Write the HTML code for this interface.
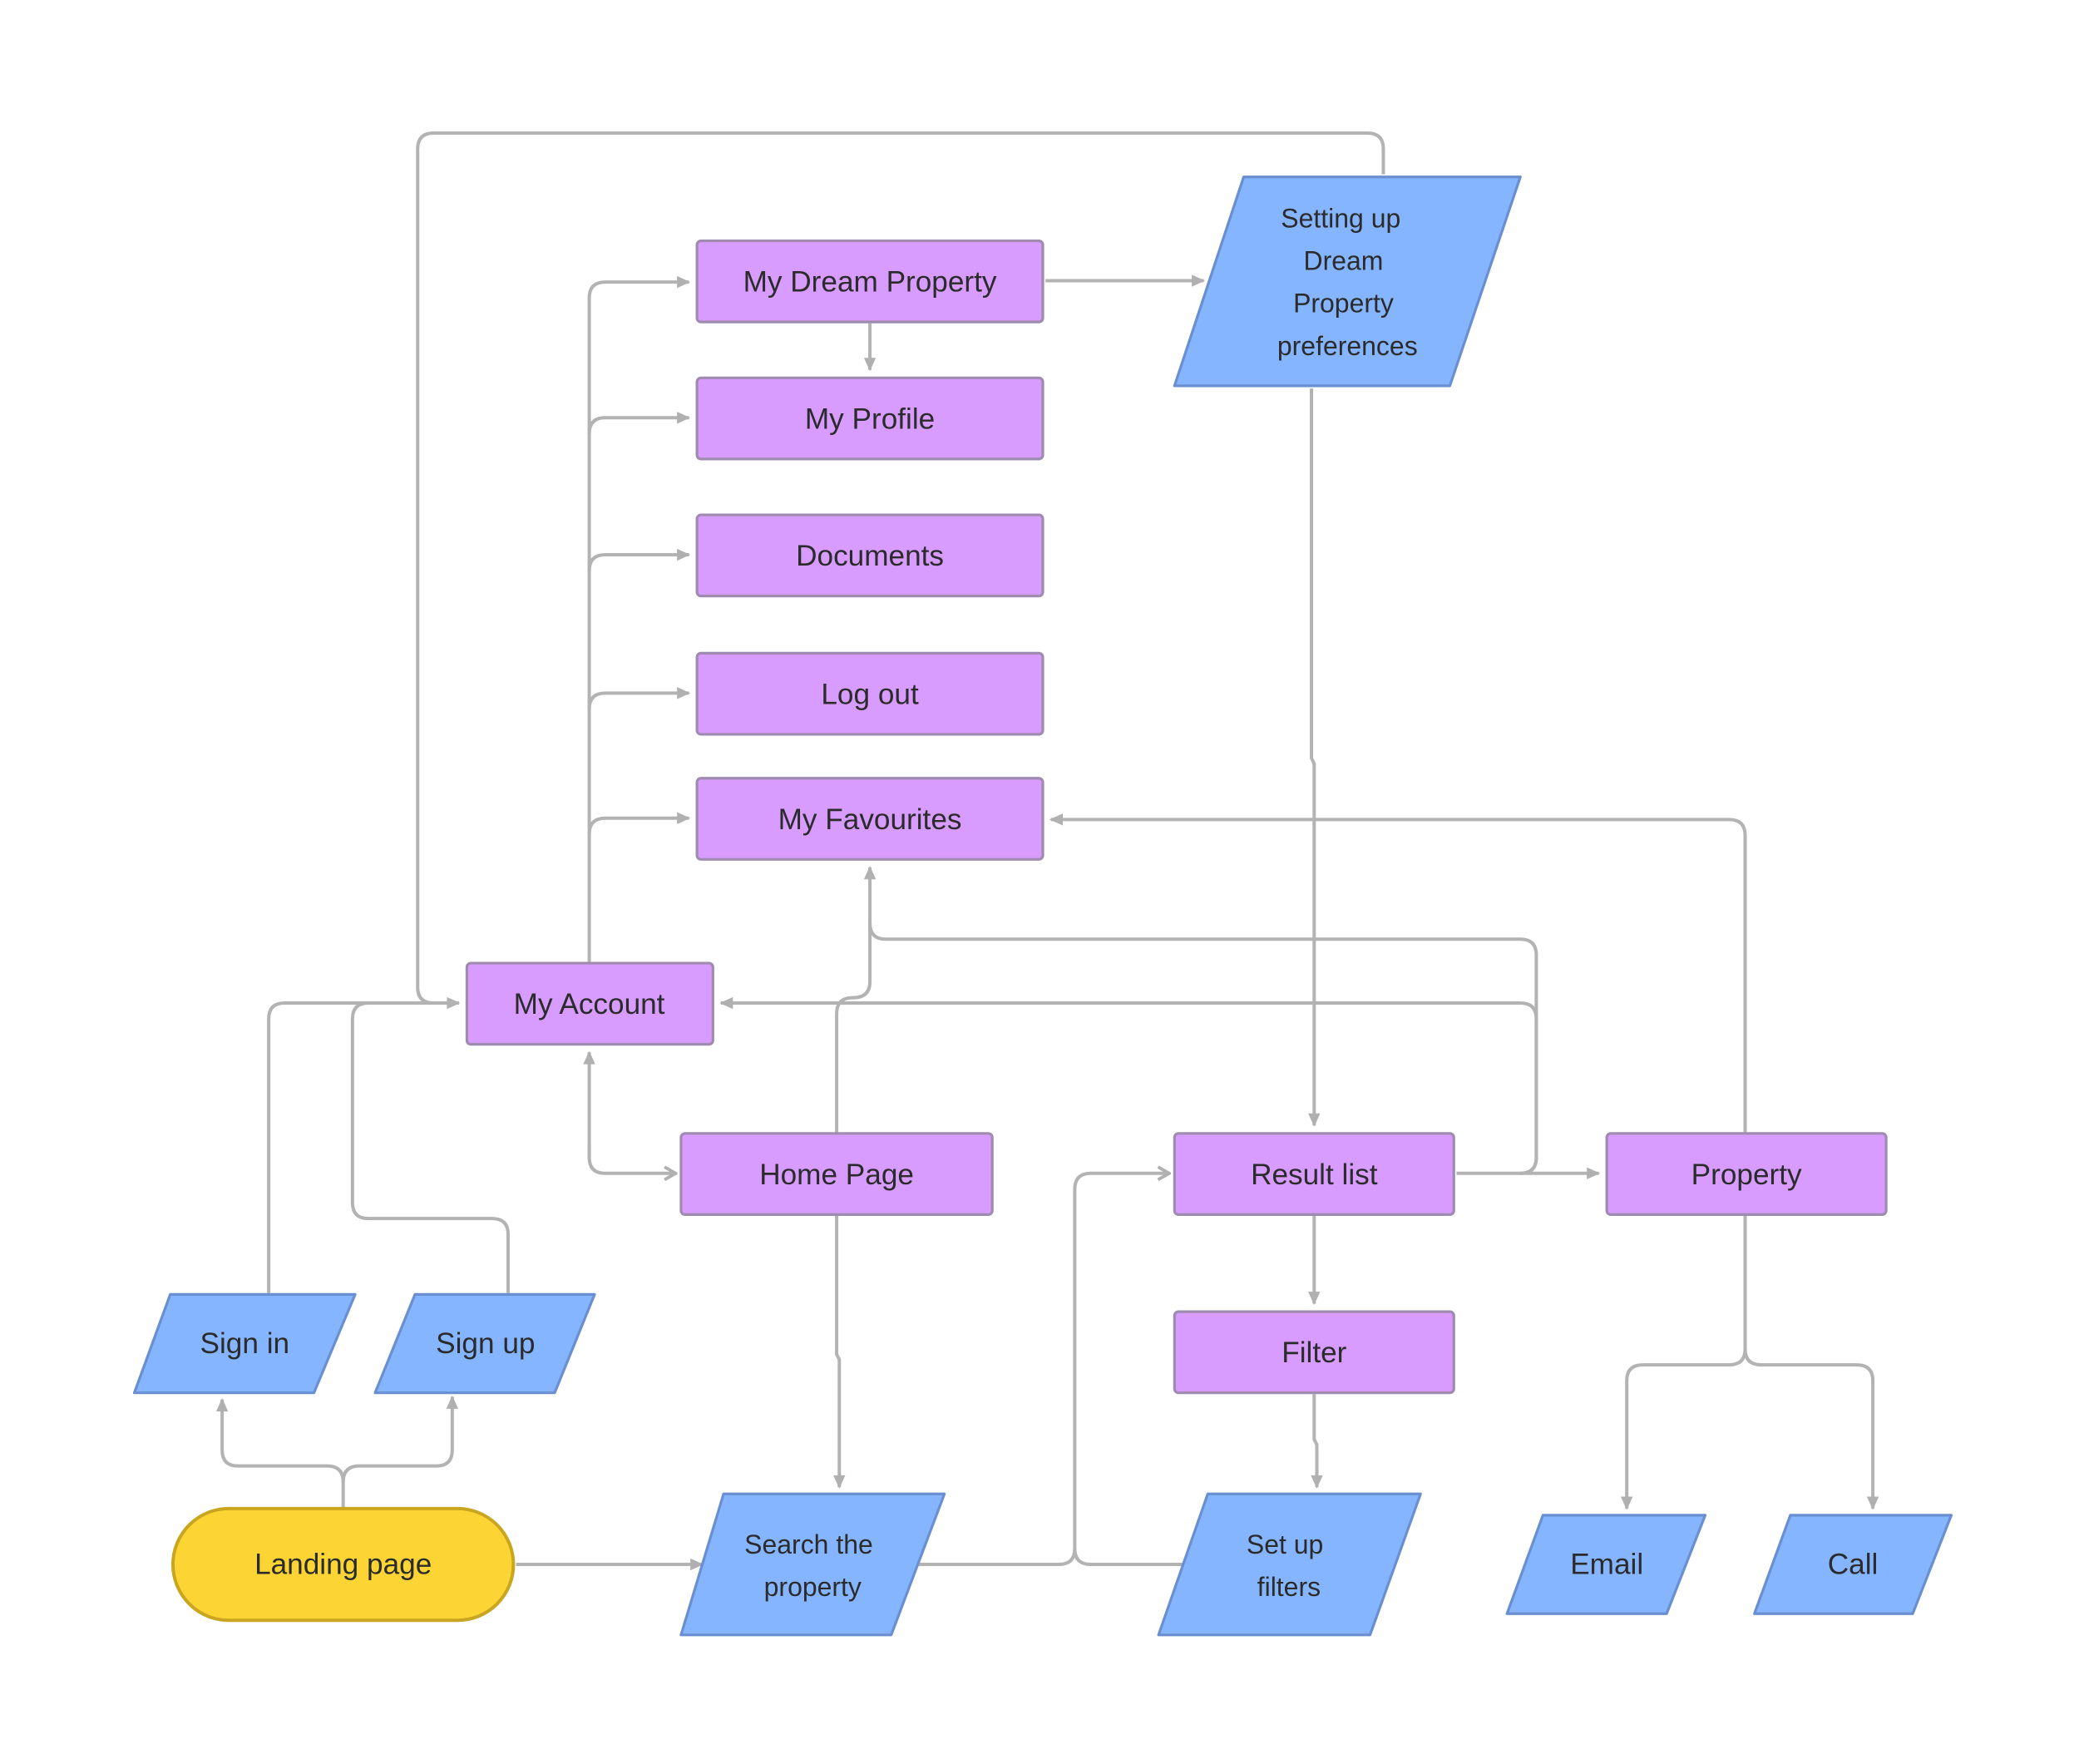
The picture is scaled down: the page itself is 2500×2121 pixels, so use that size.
<!DOCTYPE html>
<html><head><meta charset="utf-8"><style>
html,body{margin:0;padding:0;background:#fff;}
svg{display:block;}
text{font-family:"Liberation Sans",sans-serif;fill:#2b2b2b;text-anchor:middle;dominant-baseline:central;}
</style></head><body>
<svg width="2500" height="2121" viewBox="0 0 1563 1326" xmlns="http://www.w3.org/2000/svg">
<defs>
<marker id="a" viewBox="0 0 10 10" refX="9" refY="5" markerWidth="10" markerHeight="10" orient="auto" markerUnits="userSpaceOnUse" style="overflow:visible">
<path d="M0 0.5 L10 5 L0 9.5 z" fill="#b0b0b0"/></marker>
<marker id="c" viewBox="0 0 10 10" refX="9" refY="5" markerWidth="12" markerHeight="12" orient="auto" markerUnits="userSpaceOnUse">
<path d="M2 1 L9 5 L2 9" fill="none" stroke="#b0b0b0" stroke-width="2"/></marker>
</defs>
<g fill="none" stroke="#b3b3b3" stroke-width="2.5">
<path d="M1040 131 V112 Q1040 100 1028 100 H326 Q314 100 314 112 V742 Q314 754 326 754 H345" marker-end="url(#a)"/>
<path d="M443 724 V224 Q443 212 455 212 H518" marker-end="url(#a)"/>
<path d="M443 326 Q443 314 455 314 H518" marker-end="url(#a)"/>
<path d="M443 429 Q443 417 455 417 H518" marker-end="url(#a)"/>
<path d="M443 533 Q443 521 455 521 H518" marker-end="url(#a)"/>
<path d="M443 627 Q443 615 455 615 H518" marker-end="url(#a)"/>
<path d="M786 211 H905" marker-end="url(#a)"/>
<path d="M654 243 V278" marker-end="url(#a)"/>
<path d="M986 292 V570 L988 574 V846" marker-end="url(#a)"/>
<path d="M1312 852 V628 Q1312 616 1300 616 H790" marker-end="url(#a)"/>
<path d="M1095 882 H1202" marker-end="url(#a)"/>
<path d="M1143 882 Q1155 882 1155 870 V718 Q1155 706 1143 706 H666 Q654 706 654 694 V652" marker-end="url(#a)"/>
<path d="M1143 882 Q1155 882 1155 870 V766 Q1155 754 1143 754 H542" marker-end="url(#a)"/>
<path d="M629 852 V762 Q629 750 641 750 Q654 750 654 738 V694"/>
<path d="M443 870 V791" marker-end="url(#a)"/>
<path d="M443 860 V870 Q443 882 455 882 H508" marker-end="url(#c)"/>
<path d="M202 972 V766 Q202 754 214 754 H345"/>
<path d="M382 972 V928 Q382 916 370 916 H277 Q265 916 265 904 V766 Q265 754 277 754"/>
<path d="M258 1133 V1114 Q258 1102 246 1102 H179 Q167 1102 167 1090 V1052" marker-end="url(#a)"/>
<path d="M258 1114 Q258 1102 270 1102 H328 Q340 1102 340 1090 V1050" marker-end="url(#a)"/>
<path d="M388 1176 H528" marker-end="url(#a)"/>
<path d="M629 914 V1018 L631 1022 V1118" marker-end="url(#a)"/>
<path d="M690 1176 H796 Q808 1176 808 1164 V894 Q808 882 820 882 H879" marker-end="url(#c)"/>
<path d="M890 1176 H820 Q808 1176 808 1164"/>
<path d="M988 914 V980" marker-end="url(#a)"/>
<path d="M988 1048 V1082 L990 1086 V1118" marker-end="url(#a)"/>
<path d="M1312 914 V1014 Q1312 1026 1300 1026 H1235 Q1223 1026 1223 1038 V1134" marker-end="url(#a)"/>
<path d="M1312 1014 Q1312 1026 1324 1026 H1396 Q1408 1026 1408 1038 V1134" marker-end="url(#a)"/>
</g>
<g fill="#d79cfd" stroke="#a08bb0" stroke-width="2">
<rect x="524" y="181" width="260" height="61" rx="3"/>
<rect x="524" y="284" width="260" height="61" rx="3"/>
<rect x="524" y="387" width="260" height="61" rx="3"/>
<rect x="524" y="491" width="260" height="61" rx="3"/>
<rect x="524" y="585" width="260" height="61" rx="3"/>
<rect x="351" y="724" width="185" height="61" rx="3"/>
<rect x="512" y="852" width="234" height="61" rx="3"/>
<rect x="883" y="852" width="210" height="61" rx="3"/>
<rect x="1208" y="852" width="210" height="61" rx="3"/>
<rect x="883" y="986" width="210" height="61" rx="3"/>
</g>
<g fill="#86b5ff" stroke="#6a8fd0" stroke-width="2" stroke-linejoin="round">
<polygon points="935,133 1143,133 1090,290 883,290"/>
<polygon points="128,973 267,973 236,1047 101,1047"/>
<polygon points="312,973 447,973 417,1047 282,1047"/>
<polygon points="544,1123 710,1123 670,1229 512,1229"/>
<polygon points="908,1123 1068,1123 1030,1229 871,1229"/>
<polygon points="1160,1139 1282,1139 1253,1213 1133,1213"/>
<polygon points="1346,1139 1467,1139 1438,1213 1319,1213"/>
</g>
<rect x="130" y="1134" width="256" height="84" rx="42" fill="#fcd535" stroke="#c9a520" stroke-width="2.5"/>
<g font-size="22">
<text x="654" y="212">My Dream Property</text>
<text x="654" y="315">My Profile</text>
<text x="654" y="418">Documents</text>
<text x="654" y="522">Log out</text>
<text x="654" y="616">My Favourites</text>
<text x="443" y="755">My Account</text>
<text x="629" y="883">Home Page</text>
<text x="988" y="883">Result list</text>
<text x="1313" y="883">Property</text>
<text x="988" y="1017">Filter</text>
<text x="258" y="1176">Landing page</text>
<text x="184" y="1010">Sign in</text>
<text x="365" y="1010">Sign up</text>
<text x="1208" y="1176">Email</text>
<text x="1393" y="1176">Call</text>
</g>
<g font-size="20">
<text x="1008" y="164">Setting up</text>
<text x="1010" y="196">Dream</text>
<text x="1010" y="228">Property</text>
<text x="1013" y="260">preferences</text>
<text x="608" y="1161">Search the</text>
<text x="611" y="1193">property</text>
<text x="966" y="1161">Set up</text>
<text x="969" y="1193">filters</text>
</g>
</svg>
</body></html>
